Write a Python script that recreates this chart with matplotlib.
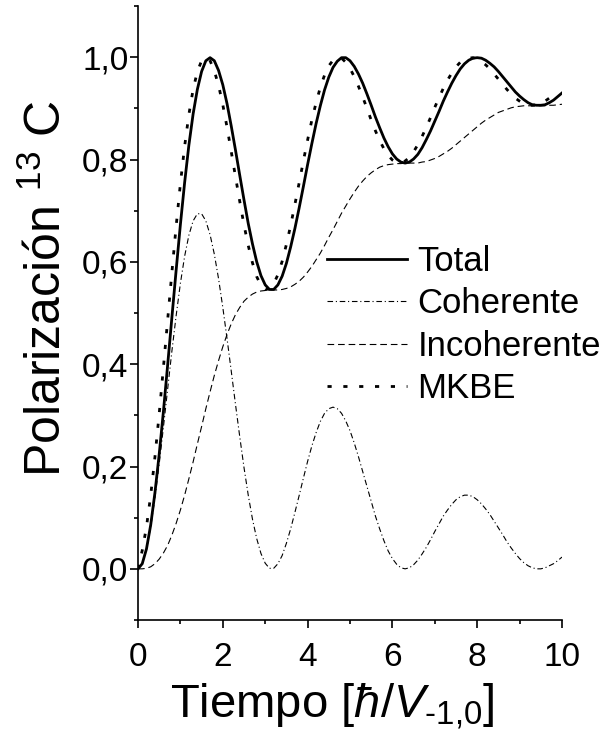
import numpy as np
import matplotlib.pyplot as plt
from matplotlib.ticker import MultipleLocator, FuncFormatter

plt.rcParams['font.family'] = 'Liberation Sans'
plt.rcParams['mathtext.fontset'] = 'custom'
plt.rcParams['mathtext.rm'] = 'Liberation Sans'
plt.rcParams['mathtext.it'] = 'Liberation Sans:italic'

# tiempo en unidades de hbar/V_{-1,0}, paso 0.1
tiempo = np.round(np.arange(0, 10.05, 0.1), 1)
tiempo_mkbe = tiempo[:99]

coherente = [
    0.000, 0.010, 0.038, 0.082, 0.139, 0.205, 0.277, 0.352, 0.426, 0.495,
    0.558, 0.611, 0.652, 0.680, 0.694, 0.694, 0.680, 0.653, 0.615, 0.567,
    0.511, 0.450, 0.386, 0.321, 0.258, 0.198, 0.144, 0.097, 0.059, 0.030,
    0.011, 0.001, 0.001, 0.010, 0.026, 0.050, 0.078, 0.110, 0.143, 0.177,
    0.210, 0.240, 0.266, 0.288, 0.304, 0.313, 0.316, 0.313, 0.304, 0.289,
    0.270, 0.246, 0.219, 0.190, 0.161, 0.132, 0.103, 0.078, 0.055, 0.035,
    0.020, 0.009, 0.002, 0.000, 0.002, 0.008, 0.017, 0.029, 0.042, 0.057,
    0.073, 0.088, 0.103, 0.115, 0.126, 0.135, 0.141, 0.144, 0.144, 0.141,
    0.135, 0.127, 0.117, 0.106, 0.093, 0.080, 0.067, 0.053, 0.041, 0.030,
    0.020, 0.012, 0.006, 0.002, 0.000, 0.000, 0.002, 0.006, 0.010, 0.016,
    0.023]

incoherente = [
    0.000, 0.000, 0.001, 0.004, 0.010, 0.019, 0.031, 0.046, 0.066, 0.089,
    0.115, 0.144, 0.176, 0.209, 0.244, 0.278, 0.313, 0.346, 0.378, 0.407,
    0.434, 0.458, 0.479, 0.497, 0.511, 0.523, 0.531, 0.537, 0.541, 0.543,
    0.544, 0.545, 0.545, 0.545, 0.546, 0.548, 0.551, 0.556, 0.562, 0.570,
    0.580, 0.591, 0.604, 0.617, 0.632, 0.648, 0.663, 0.679, 0.695, 0.709,
    0.723, 0.736, 0.748, 0.758, 0.767, 0.774, 0.780, 0.785, 0.788, 0.790,
    0.791, 0.792, 0.792, 0.793, 0.793, 0.793, 0.793, 0.795, 0.796, 0.799,
    0.802, 0.806, 0.811, 0.816, 0.822, 0.829, 0.836, 0.843, 0.850, 0.857,
    0.864, 0.871, 0.877, 0.882, 0.887, 0.892, 0.895, 0.898, 0.901, 0.903,
    0.904, 0.905, 0.905, 0.905, 0.905, 0.905, 0.905, 0.906, 0.906, 0.907,
    0.908]

total = [
    0.000, 0.010, 0.039, 0.086, 0.149, 0.224, 0.308, 0.399, 0.492, 0.584,
    0.673, 0.755, 0.828, 0.889, 0.937, 0.972, 0.993, 0.999, 0.993, 0.974,
    0.946, 0.909, 0.865, 0.818, 0.769, 0.721, 0.675, 0.635, 0.600, 0.573,
    0.555, 0.546, 0.546, 0.555, 0.572, 0.597, 0.629, 0.665, 0.705, 0.747,
    0.790, 0.831, 0.870, 0.905, 0.936, 0.961, 0.980, 0.992, 0.999, 0.999,
    0.993, 0.982, 0.967, 0.949, 0.928, 0.906, 0.883, 0.862, 0.842, 0.825,
    0.811, 0.801, 0.795, 0.793, 0.795, 0.801, 0.810, 0.823, 0.839, 0.856,
    0.875, 0.894, 0.914, 0.932, 0.949, 0.964, 0.977, 0.987, 0.994, 0.998,
    0.999, 0.998, 0.994, 0.988, 0.981, 0.972, 0.962, 0.952, 0.942, 0.932,
    0.924, 0.917, 0.911, 0.907, 0.906, 0.906, 0.907, 0.911, 0.916, 0.923,
    0.930]

mkbe = [
    0.000, 0.036, 0.082, 0.144, 0.219, 0.303, 0.394, 0.487, 0.580, 0.670,
    0.753, 0.826, 0.888, 0.937, 0.972, 0.993, 0.999, 0.993, 0.973, 0.945,
    0.907, 0.863, 0.815, 0.766, 0.718, 0.672, 0.632, 0.598, 0.571, 0.554,
    0.546, 0.547, 0.557, 0.575, 0.601, 0.634, 0.671, 0.712, 0.754, 0.797,
    0.838, 0.877, 0.911, 0.941, 0.965, 0.983, 0.994, 0.999, 0.998, 0.990,
    0.978, 0.962, 0.943, 0.922, 0.900, 0.877, 0.856, 0.837, 0.821, 0.808,
    0.799, 0.794, 0.794, 0.797, 0.804, 0.815, 0.829, 0.845, 0.863, 0.882,
    0.902, 0.921, 0.939, 0.955, 0.969, 0.981, 0.990, 0.996, 0.998, 0.999,
    0.996, 0.991, 0.985, 0.977, 0.967, 0.957, 0.947, 0.937, 0.928, 0.920,
    0.914, 0.909, 0.906, 0.906, 0.907, 0.909, 0.914, 0.920, 0.927]

W, H = 603, 744
fig = plt.figure(figsize=(W / 100, H / 100), dpi=100)
ax = fig.add_axes([138 / W, 1 - 620 / H, 424 / W, 614 / H])

ax.plot(tiempo, total, color='black', lw=2.0, label='Total')
ax.plot(tiempo, coherente, color='black', lw=0.8, ls=(0, (5, 2.5, 1, 2.5)), label='Coherente')
ax.plot(tiempo, incoherente, color='black', lw=0.8, ls=(0, (6, 3.5)), label='Incoherente')
ax.plot(tiempo_mkbe, mkbe, color='black', lw=2.0, ls=(0, (1.5, 4.2)), label='MKBE')

ax.set_xlim(0, 10)
ax.set_ylim(-0.1, 1.1)
ax.spines['top'].set_visible(False)
ax.spines['right'].set_visible(False)
for s in ['left', 'bottom']:
    ax.spines[s].set_linewidth(1.2)

ax.xaxis.set_major_locator(MultipleLocator(2))
ax.xaxis.set_minor_locator(MultipleLocator(1))
ax.set_yticks(np.arange(-0.1, 1.15, 0.2), minor=True)
ax.set_yticks(np.arange(0, 1.05, 0.2))
ax.yaxis.set_major_formatter(FuncFormatter(lambda v, p: f'{v:.1f}'.replace('.', ',')))
ax.tick_params(which='both', direction='out', width=1.2, labelsize=24)
ax.tick_params(which='major', length=6)
ax.tick_params(which='minor', length=3)
ax.tick_params(axis='y', pad=1)
ax.tick_params(axis='x', pad=10)

fig.text(47 / W, 1 - 477 / H, 'Polarización $^{13}$ C', rotation=90,
         ha='center', va='bottom', fontsize=36)
fig.text(170 / W, 1 - 718 / H, r'Tiempo [$\mathit{ħ}/\mathit{V}_{\text{-1,0}}$]',
         ha='left', va='baseline', fontsize=34)

ax.legend(loc='upper left', bbox_to_anchor=(327 / W, 1 - 245 / H),
          bbox_transform=fig.transFigure, frameon=False, fontsize=25,
          handlelength=2.3, handletextpad=0.3, labelspacing=0.27,
          borderpad=0, borderaxespad=0)

fig.savefig('out.png', dpi=100)
